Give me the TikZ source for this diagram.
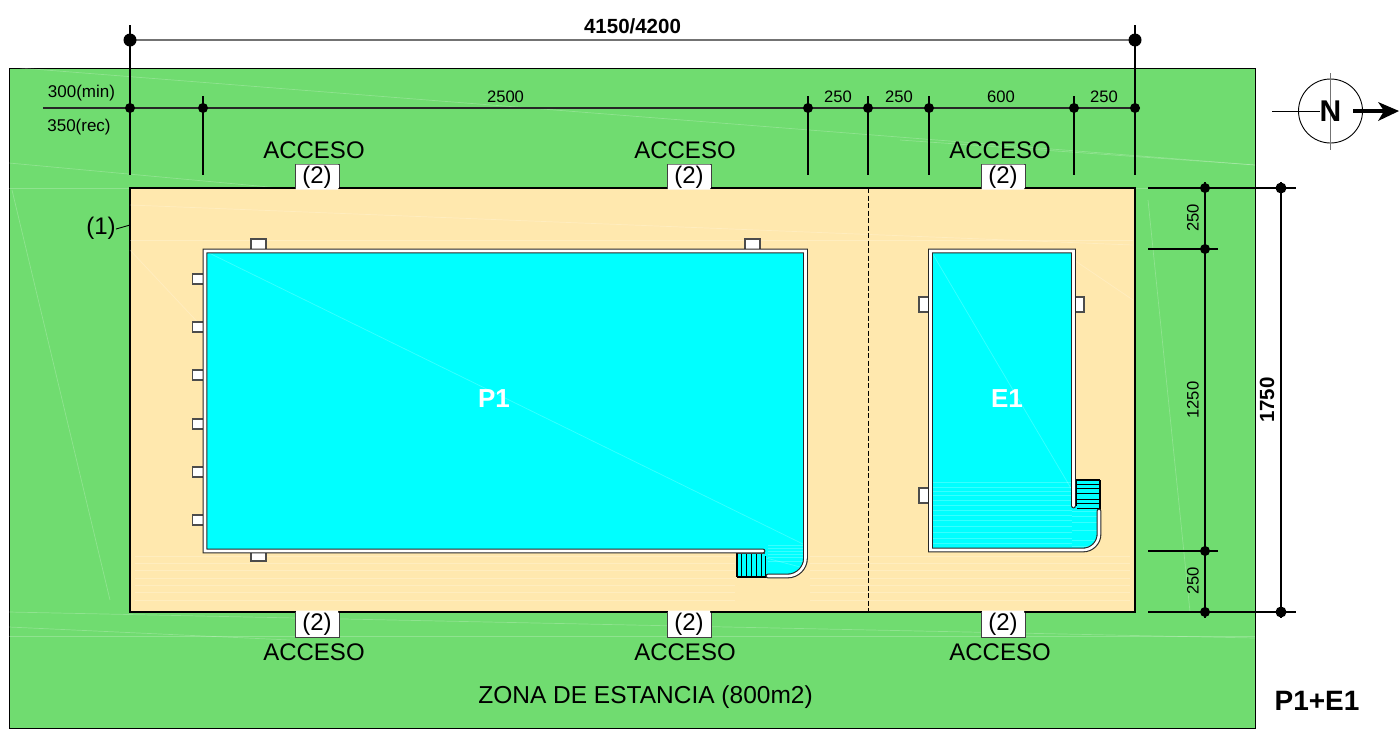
\documentclass[tikz,border=0pt]{standalone}
\usepackage{fontspec}
\setmainfont{Liberation Sans}
\definecolor{grass}{HTML}{70DC70}
\definecolor{sand}{HTML}{FFE8AE}
\definecolor{water}{HTML}{00FFFF}
\newcommand{\fs}[1]{\fontsize{#1}{#1}\selectfont}
\tikzset{
  dimline/.style={line width=1.1pt,draw=black!85},
  dimtick/.style={line width=1.1pt,draw=black},
  dotb/.style={circle,fill=black,inner sep=0pt,minimum size=11pt},
  dotl/.style={circle,fill=black,inner sep=0pt,minimum size=13pt},
  dimtxt/.style={font=\fs{16.6},inner sep=0pt},
  acc/.style={font=\fs{24},inner sep=0pt},
  num/.style={font=\fs{24},inner sep=0pt},
  tabbox/.style={draw=black!70,fill=white,line width=1.3pt},
  accbox/.style={draw=black!75,fill=white,line width=1pt},
  wallo/.style={draw=black!85,line width=4.8pt,line cap=round,line join=miter},
  walli/.style={draw=white,line width=2.6pt,line cap=round,line join=miter},
  streak/.style={draw=white,line width=0.7pt,opacity=0.22}
}
\begin{document}
\begin{tikzpicture}[x=1pt,y=-1pt]
\useasboundingbox (0,0) rectangle (1399,729);
\fill[white] (0,0) rectangle (1399,729);
% ground
\draw[fill=grass,draw=black,line width=1pt] (9,68) rectangle (1255,728);
\draw[streak] (20,68) -- (1255,165);
\draw[streak] (9,163) -- (280,188);
\draw[streak] (9,188) -- (1255,188);
\draw[streak] (12,190) -- (110,600);
\draw[streak] (9,612) -- (1255,638);
\draw[streak] (9,636) -- (1255,636);
\draw[streak] (9,627) -- (290,640);
\draw[streak] (1148,200) -- (1190,612);
\draw[streak] (900,140) -- (1255,165);
% deck
\draw[fill=sand,draw=black,line width=2.6pt] (130,188) rectangle (1135,612);
\draw[streak] (130,205) -- (1133,245);
\draw[streak] (130,240) -- (1133,240);
\draw[streak] (130,250) -- (205,330);
\draw[streak] (1074,260) -- (1133,300);
\foreach \yy in {556,563,570,578,585,592,600}{
  \draw[streak] (135,\yy) -- (735,\yy);
  \draw[streak] (810,\yy) -- (1130,\yy);
}
\draw[line width=1pt,dashed,dash pattern=on 5pt off 2.5pt] (868,188) -- (868,612);
% access boxes
\foreach \xx in {295,667,981}{
  \draw[accbox] (\xx,164) rectangle (\xx+44,188);
  \draw[accbox] (\xx,612) rectangle (\xx+44,637);
}
\draw[line width=2.6pt] (130,188) -- (295,188) (339,188) -- (667,188) (711,188) -- (981,188) (1025,188) -- (1135,188);
\draw[line width=2.6pt] (130,612) -- (295,612) (339,612) -- (667,612) (711,612) -- (981,612) (1025,612) -- (1135,612);
\fill[white] (296,164.6) rectangle (338,189.5) (668,164.6) rectangle (710,189.5) (982,164.6) rectangle (1024,189.5);
\fill[white] (296,610.5) rectangle (338,636.4) (668,610.5) rectangle (710,636.4) (982,610.5) rectangle (1024,636.4);
% tabs P1
\foreach \xx in {251,745}{\draw[tabbox] (\xx,239) rectangle (\xx+15,250);}
\draw[tabbox] (251,550) rectangle (266,561);
\foreach \yy in {279,327,375,424,472,520}{\draw[tabbox] (192.5,\yy-5) rectangle (204,\yy+5);}
% tabs E1
\foreach \yy in {297,488}{\draw[tabbox] (919,\yy) rectangle (931,\yy+15);}
\draw[tabbox] (1073,297) rectangle (1084,312);
% pool P1 water
\fill[water] (205,251) -- (805.5,251) -- (805.5,558) arc[start angle=0,end angle=90,radius=18] -- (737,576) -- (737,553) -- (763,553) -- (763,549) -- (205,549) -- cycle;
\draw[streak] (205,251) -- (805,545);
\foreach \yy in {545,548,551,554,557,561}{\draw[streak] (768,\yy) -- (804,\yy);}
\draw[streak] (766,558) -- (804,568);
% stairs P1
\draw[line width=1pt,draw=black!70] (737,553.5) -- (765,553.5);
\draw[line width=1.4pt] (737,553) -- (737,577);
\foreach \xx in {741,746,751,756,761}{\draw[line width=0.9pt] (\xx,554) -- (\xx,576);}
\draw[line width=1.2pt] (765.5,556) -- (765.5,576);
\draw[line width=1.8pt] (737,577) -- (768,577);
% walls P1
\def\wallP{(763,551) -- (205,551) -- (205,251) -- (805.5,251) -- (805.5,558) arc[start angle=0,end angle=90,radius=18] -- (768,576)}
\draw[wallo] \wallP;
\draw[walli] \wallP;
% pool E1 water
\fill[water] (931,251) -- (1073,251) -- (1073,508) -- (1075,508) -- (1075,480) -- (1099,480) -- (1099,534) arc[start angle=0,end angle=90,radius=16] -- (931,550) -- cycle;
\draw[streak] (931,251) -- (1072,490);
\foreach \yy in {482,487,491,495,500,505,510,515,520,526,532,538,543}{\draw[streak] (933,\yy) -- (1072,\yy);}
\foreach \yy in {511,516,522,530,540,546}{\draw[streak] (1072,\yy) -- (1098,\yy);}
% stairs E1
\draw[line width=1.2pt] (1076,480) -- (1100,480);
\foreach \yy in {484,488,493,499,503,508.5}{\draw[line width=0.9pt] (1077,\yy) -- (1099,\yy);}
\draw[line width=1.4pt] (1100,480) -- (1100,510);
\draw[line width=1.2pt] (1076,480) -- (1076,506);
% walls E1
\def\wallE{(1073.5,506) -- (1073.5,251) -- (930.5,251) -- (930.5,550) -- (1083,550) arc[start angle=90,end angle=0,radius=16] -- (1099,511)}
\draw[wallo] \wallE;
\draw[walli] \wallE;
% dimensions top
\draw[dimline,draw=black!55,line width=1.6pt] (130,40) -- (1135,40);
\draw[dimline] (43,108) -- (1140,108);
\draw[dimtick] (130,25) -- (130,175);
\draw[dimtick] (1135,25) -- (1135,175);
\foreach \xx in {203,808,868,929,1074}{\draw[dimtick] (\xx,96) -- (\xx,175);}
\node[dotl] (ta) at (130,40) {};
\node[dotl] (tb) at (1135,40) {};
\node[dotb,minimum size=10pt] (da) at (130,108) {};
\node[dotb,minimum size=10pt] (db) at (203,108) {};
\node[dotb,minimum size=10pt] (dc) at (808,108) {};
\node[dotb,minimum size=10pt] (dd) at (868,108) {};
\node[dotb,minimum size=10pt] (de) at (929,108) {};
\node[dotb,minimum size=10pt] (df) at (1074,108) {};
\node[dotb,minimum size=10pt] (dg) at (1135,108) {};
% dimensions right
\draw[dimtick] (1148,188) -- (1296,188);
\draw[dimtick] (1148,612) -- (1296,612);
\draw[dimtick] (1148,249) -- (1218,249);
\draw[dimtick] (1148,551) -- (1218,551);
\draw[dimtick] (1205,182) -- (1205,618);
\draw[dimtick] (1281,182) -- (1281,618);
\foreach \n/\yy in {ra/188,rb/249,rc/551,rd/612}{\node[dotb,minimum size=10pt] (\n) at (1205,\yy) {};}
\node[dotb,minimum size=11pt] (re) at (1281,188) {};
\node[dotb,minimum size=11pt] (rf) at (1281,612) {};
% texts
\node[font=\bfseries\fs{20.5},inner sep=0pt] (t1) at (632.5,26) {4150/4200};
\node[dimtxt,font=\fs{17}] (t2) at (81.5,93) {300(min)};
\node[dimtxt,font=\fs{17}] (t3) at (79,127) {350(rec)};
\node[dimtxt] (t4) at (505.5,97) {2500};
\node[dimtxt] (t5) at (838,97) {250};
\node[dimtxt] (t6) at (899,97) {250};
\node[dimtxt] (t7) at (1001,97) {600};
\node[dimtxt] (t8) at (1104,97) {250};
\foreach \n/\xx in {a/314,b/685,c/1000}{
  \node[acc] (up\n) at (\xx,150) {ACCESO};
  \node[acc] (lo\n) at (\xx,652) {ACCESO};
}
\foreach \n/\xx in {a/317,b/689,c/1003}{
  \node[num] (nu\n) at (\xx,177) {(2)};
  \node[num] (nl\n) at (\xx,624) {(2)};
}
\node[num] (one) at (101,228) {(1)};
\draw[line width=0.9pt] (116,229) -- (130,225);
\node[font=\bfseries\fs{26},text=white,inner sep=0pt] (p1) at (494,399) {P1};
\node[font=\bfseries\fs{26},text=white,inner sep=0pt] (e1) at (1007,399) {E1};
\node[font=\fs{16.6},rotate=90,inner sep=0pt] (r1) at (1193,218) {250};
\node[font=\fs{16.6},rotate=90,inner sep=0pt] (r2) at (1193,400) {1250};
\node[font=\fs{16.6},rotate=90,inner sep=0pt] (r3) at (1193,581) {250};
\node[font=\bfseries\fs{20.5},rotate=90,inner sep=0pt] (r4) at (1267,400) {1750};
\node[font=\fs{24.5},inner sep=0pt] (zona) at (645.5,697) {ZONA DE ESTANCIA (800m2)};
\node[font=\bfseries\fs{28},inner sep=0pt] (lab) at (1317,701) {P1+E1};
% north
\draw[line width=0.9pt] (1330.5,111) circle (32);
\draw[line width=1.1pt,draw=black!55] (1330.5,73) -- (1330.5,150);
\draw[line width=1pt] (1272,111) -- (1320,111);
\node[font=\bfseries\fs{30},inner sep=0pt] (north) at (1330.5,111) {N};
\draw[line width=4pt] (1353,111) -- (1384,111);
\fill (1378,102) -- (1399,111) -- (1378,121) -- (1384,111) -- cycle;
\end{tikzpicture}
\end{document}
